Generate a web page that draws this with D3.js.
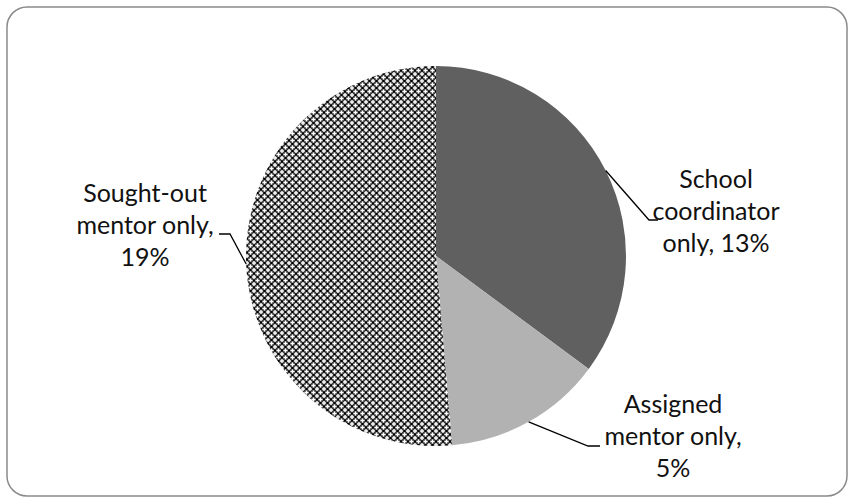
<!DOCTYPE html>
<html><head><meta charset="utf-8">
<script src="https://cdn.jsdelivr.net/npm/d3@7"></script>
<style>html,body{margin:0;padding:0;background:#fff;}svg{display:block;}</style>
</head><body>
<script>
const categories = ["School coordinator only", "Assigned mentor only", "Sought-out mentor only"];
const values = [13, 5, 19];
const labelLines = [["School", "coordinator", "only, 13%"], ["Assigned", "mentor only,", "5%"], ["Sought-out", "mentor only,", "19%"]];

const W = 854, H = 503;
const svg = d3.select("body").append("svg").attr("width", W).attr("height", H);

svg.append("rect").attr("x", 7).attr("y", 7).attr("width", 840).attr("height", 489)
  .attr("rx", 20).attr("ry", 20).attr("fill", "#fff").attr("stroke", "#8a8a8a").attr("stroke-width", 1.5);

const defs = svg.append("defs");
const T = 7;
const pat = defs.append("pattern").attr("id", "chk").attr("patternUnits", "userSpaceOnUse")
  .attr("width", T).attr("height", T);
pat.append("rect").attr("width", T).attr("height", T).attr("fill", "#3c3c3c");
[[0,0],[T,0],[0,T],[T,T],[T/2,T/2]].forEach(([x0,y0]) => {
  pat.append("rect").attr("x", x0-2.1).attr("y", y0-0.7).attr("width", 4.2).attr("height", 1.4).attr("fill", "#fff");
  pat.append("rect").attr("x", x0-0.7).attr("y", y0-2.1).attr("width", 1.4).attr("height", 4.2).attr("fill", "#fff");
});
[[T/2,0],[0,T/2],[T,T/2],[T/2,T]].forEach(([x0,y0]) => {
  pat.append("rect").attr("x", x0-1).attr("y", y0-1).attr("width", 2).attr("height", 2).attr("fill", "#000");
});

const cx = 436, cy = 256, r = 190;
const fills = ["#606060", "#b2b2b2", "url(#chk)"];
const pie = d3.pie().sort(null).value(d => d)(values);
const arc = d3.arc().innerRadius(0).outerRadius(r);
const g = svg.append("g").attr("transform", `translate(${cx},${cy})`);
g.selectAll("path").data(pie).join("path").attr("d", arc).attr("fill", (d, i) => fills[i]);

const labelPos = [{x: 716, y: 188, elbowX: 649, elbowY: 220, endX: 658},
                  {x: 673, y: 413, elbowX: 588, elbowY: 446, endX: 600},
                  {x: 145, y: 202, elbowX: 230, elbowY: 234, endX: 219}];
const lh = 32;
const fontSize = 25;
pie.forEach((d, i) => {
  const a = (d.startAngle + d.endAngle) / 2;
  const px = cx + r * Math.sin(a), py = cy - r * Math.cos(a);
  const L = labelPos[i];
  svg.append("polyline").attr("points", `${px},${py} ${L.elbowX},${L.elbowY} ${L.endX},${L.elbowY}`)
    .attr("fill", "none").attr("stroke", "#000").attr("stroke-width", 1.3);
  const t = svg.append("text").attr("font-family", "Lato, 'Open Sans', sans-serif").attr("font-size", fontSize)
    .attr("fill", "#111").attr("text-anchor", "middle");
  labelLines[i].forEach((ln, j) => {
    t.append("tspan").attr("x", L.x).attr("y", L.y + j * lh).text(ln);
  });
});
</script>
</body></html>
